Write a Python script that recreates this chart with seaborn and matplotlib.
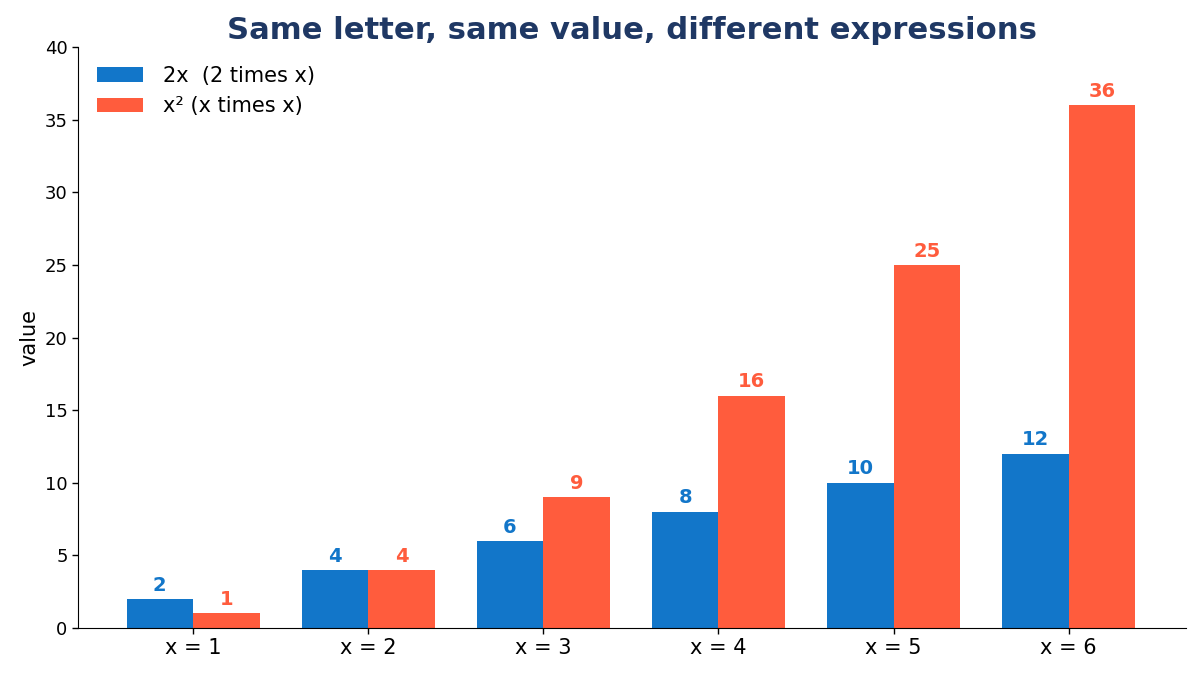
import matplotlib
matplotlib.use("Agg")
import matplotlib.pyplot as plt
import seaborn as sns
import pandas as pd

x_labels = ["x = 1", "x = 2", "x = 3", "x = 4", "x = 5", "x = 6"]
two_x = [2, 4, 6, 8, 10, 12]
x_squared = [1, 4, 9, 16, 25, 36]
series_names = ["2x  (2 times x)", "x² (x times x)"]
colors = ["#1276C9", "#FF5C3D"]

df = pd.DataFrame({
    "x": x_labels * 2,
    "value": two_x + x_squared,
    "series": [series_names[0]] * len(two_x) + [series_names[1]] * len(x_squared),
})

sns.set_style("white")
plt.rcParams['font.family'] = ['DejaVu Sans']
plt.rcParams['text.color'] = 'black'
plt.rcParams['axes.labelcolor'] = 'black'
plt.rcParams['xtick.color'] = 'black'
plt.rcParams['ytick.color'] = 'black'
plt.rcParams['axes.edgecolor'] = 'black'

fig, ax = plt.subplots(figsize=(12, 6.75), dpi=100)
sns.barplot(data=df, x="x", y="value", hue="series", palette=colors,
            width=0.76, gap=0, saturation=1, linewidth=0, ax=ax, errorbar=None)

for cont, col in zip(ax.containers, colors):
    ax.bar_label(cont, padding=3, color=col, fontsize=14, fontweight="bold")

ax.set_xlim(-0.657, 5.668)
ax.set_ylim(0, 40)
ax.set_yticks(range(0, 41, 5))
ax.set_xlabel("")
ax.set_ylabel("value", fontsize=15)
ax.tick_params(axis="x", labelsize=15)
ax.tick_params(axis="y", labelsize=13)
ax.tick_params(axis="both", which="major", length=4, width=1, bottom=True, left=True)
sns.despine(ax=ax)
ax.set_title("Same letter, same value, different expressions", fontsize=22.1,
             fontweight="bold", color="#1F3864")
ax.legend(frameon=False, fontsize=15, loc="upper left", title=None,
          handlelength=2.2, handletextpad=1.0)

fig.subplots_adjust(left=0.065, right=0.988, top=0.93, bottom=0.07)
fig.savefig("out.png")
